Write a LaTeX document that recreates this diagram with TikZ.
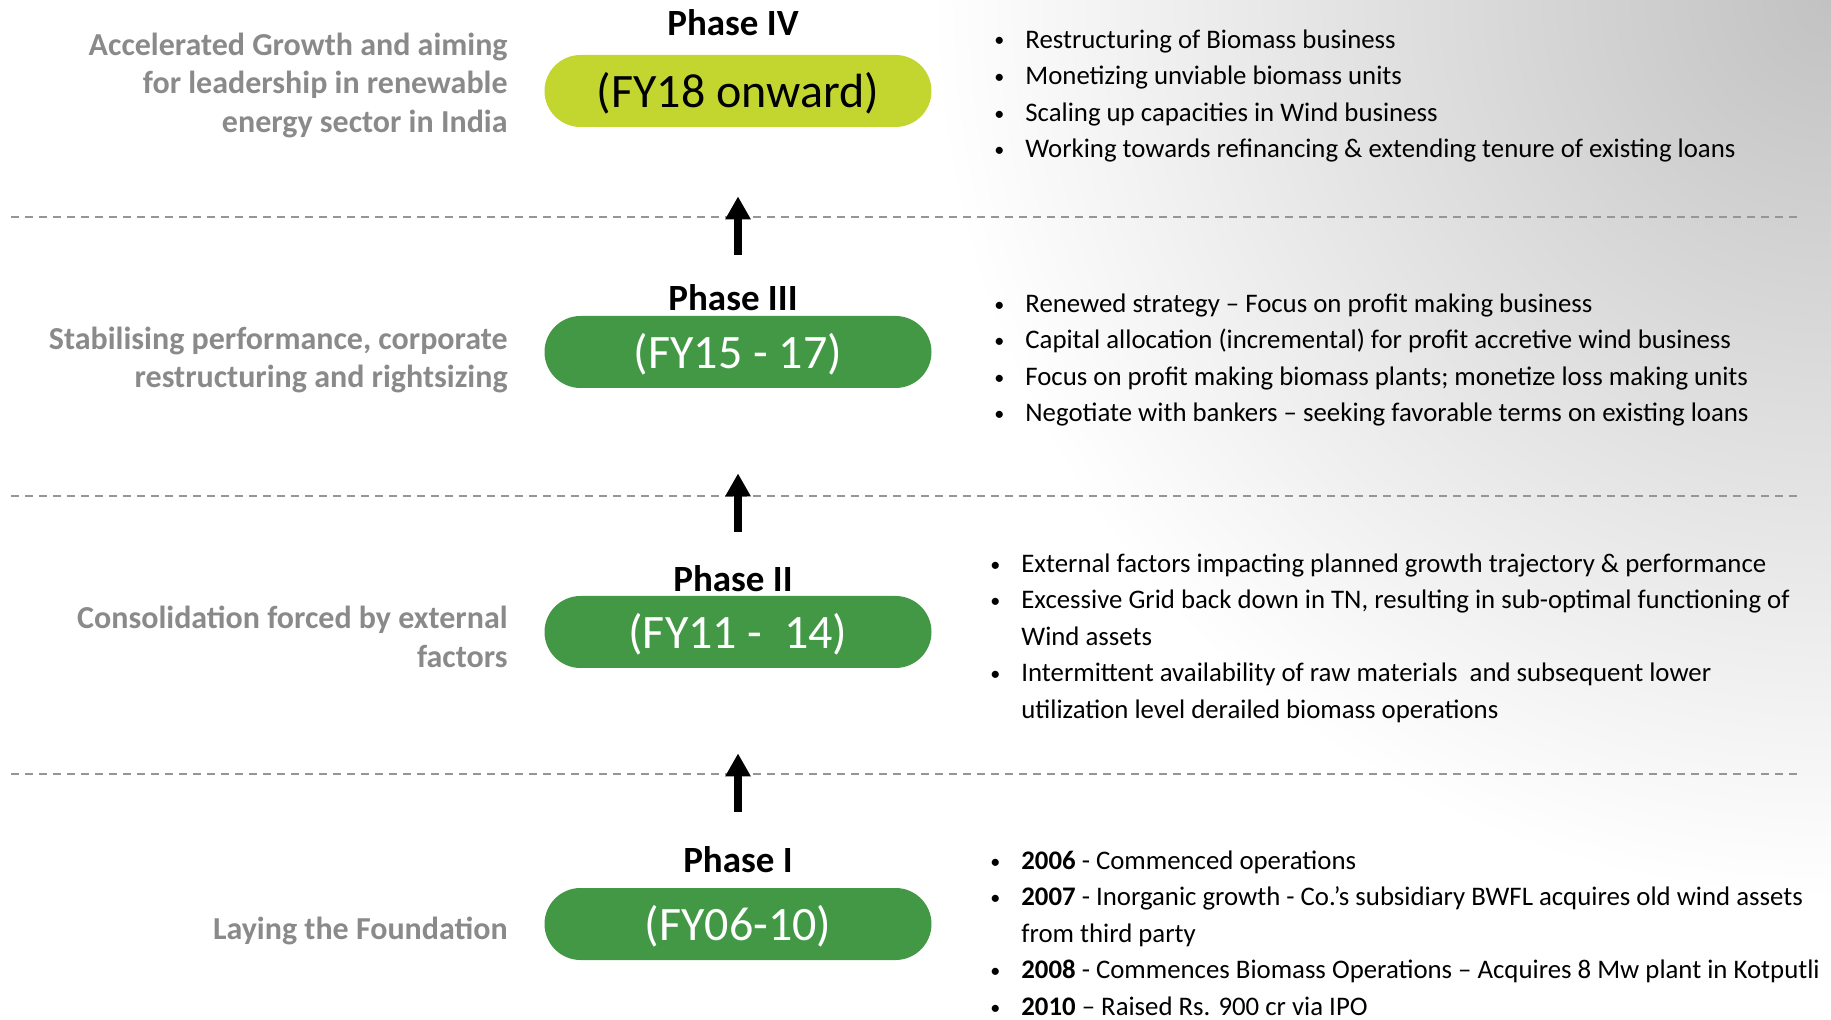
\documentclass[tikz,border=0pt]{standalone}
\usepackage{fontspec}
\setmainfont{Carlito}
\usepackage{tikz}
\usepackage{xcolor}
\usetikzlibrary{positioning}
\usetikzlibrary{arrows.meta}
\tikzset{%
	phase/.style={font=\fontsize{18.5}{22}\selectfont\bfseries,
		anchor=base, inner sep=0pt},
	period/.style={rectangle, rounded corners=18pt, fill=PhaseGreen,
		text=white, minimum width=193.5pt, minimum height=36pt,
		inner sep=0pt, text height=17pt, text depth=0.5pt,
		font=\fontsize{24}{28}\selectfont},
	stage/.style={align=right, text=StageGray, anchor=east, inner sep=0pt,
		font=\fontsize{16}{19.25}\selectfont\bfseries},
	points/.style={align=left, anchor=north west, inner sep=0pt,
		font=\fontsize{13.4}{18.25}\selectfont},
	divider/.style={dash pattern=on 4pt off 3pt, line width=1pt, RuleGray},
	climb/.style={-{Triangle[width=12pt,length=11.5pt]}, line width=4pt},
}
\definecolor{PhaseGreen}{RGB}{67,152,70}
\definecolor{PhaseLime}{RGB}{195,214,48}
\definecolor{StageGray}{RGB}{138,138,138}
\definecolor{RuleGray}{RGB}{150,150,150}
\pgfdeclareradialshading{cornerglow}{\pgfpoint{0bp}{0bp}}{%
	color(0bp)=(black!24); color(25bp)=(white); color(50bp)=(white)}
\newcommand{\bitem}{\makebox[15.5pt][l]{\raisebox{0.5pt}{\scalebox{0.75}{\textbullet}}}}
\newcommand{\bcont}{\hspace*{15.5pt}}

\begin{document}
\begin{tikzpicture}[x=0.5pt, y=-0.5pt]

    \useasboundingbox (0,0) rectangle (1831,1020);
    \begin{scope}
    \clip (0,0) rectangle (1831,1020);
    \shade[shading=cornerglow] (1831,0) circle (900);
    \end{scope}

    % separators
    \foreach \y in {217,496,774}
        \draw[divider] (11,\y) -- (1797,\y);

    % periods
    \node [period, fill=PhaseLime, text=black] (p4) at (738,91) {(FY18 onward)};
    \node [period] (p3) at (738,352) {(FY15 - 17)};
    \node [period] (p2) at (738,632) {(FY11 -~~14)};
    \node [period] (p1) at (738,924) {(FY06-10)};

    \node [phase] (ph4) at (733,36) {Phase IV};
    \node [phase] (ph3) at (733,310.5) {Phase III};
    \node [phase] (ph2) at (733,591.5) {Phase II};
    \node [phase] (ph1) at (738,872.5) {Phase I};

    \draw[climb, shorten <=30.5pt, shorten >=34.5pt] (p3.north) -- (p4.south);
    \draw[climb, shorten <=32pt, shorten >=42.5pt] (p2.north) -- (p3.south);
    \draw[climb, shorten <=38pt, shorten >=42.5pt] (p1.north) -- (p2.south);

    % stage titles
    \node [stage] (st4) at (508,85) {Accelerated Growth and aiming\\for leadership in renewable\\energy sector in India};
    \node [stage] (st3) at (508,360) {Stabilising performance, corporate\\restructuring and rightsizing};
    \node [stage] (st2) at (508,637) {Consolidation forced by external\\factors};
    \node [stage] (st1) at (508,931) {Laying the Foundation};

    % key points
    \node [points] (pts4) at (994,29) {%
        \bitem Restructuring of Biomass business\\
        \bitem Monetizing unviable biomass units\\
        \bitem Scaling up capacities in Wind business\\
        \bitem Working towards refinancing \& extending tenure of existing loans};
    \node [points] (pts3) at (994,293) {%
        \bitem Renewed strategy -- Focus on profit making business\\
        \bitem Capital allocation (incremental) for profit accretive wind business\\
        \bitem Focus on profit making biomass plants; monetize loss making units\\
        \bitem Negotiate with bankers -- seeking favorable terms on existing loans};
    \node [points] (pts2) at (990,553) {%
        \bitem External factors impacting planned growth trajectory \& performance\\
        \bitem Excessive Grid back down in TN, resulting in sub-optimal functioning of\\
        \bcont Wind assets\\
        \bitem Intermittent availability of raw materials~ and subsequent lower\\
        \bcont utilization level derailed biomass operations};
    \node [points] (pts1) at (990,850) {%
        \bitem \textbf{2006} - Commenced operations\\
        \bitem \textbf{2007} - Inorganic growth - Co.{\char"27}s subsidiary BWFL acquires old wind assets\\
        \bcont from third party\\
        \bitem \textbf{2008} - Commences Biomass Operations -- Acquires 8 Mw plant in Kotputli\\
        \bitem \textbf{2010} -- Raised Rs. 900 cr via IPO};

\end{tikzpicture}
\end{document}
